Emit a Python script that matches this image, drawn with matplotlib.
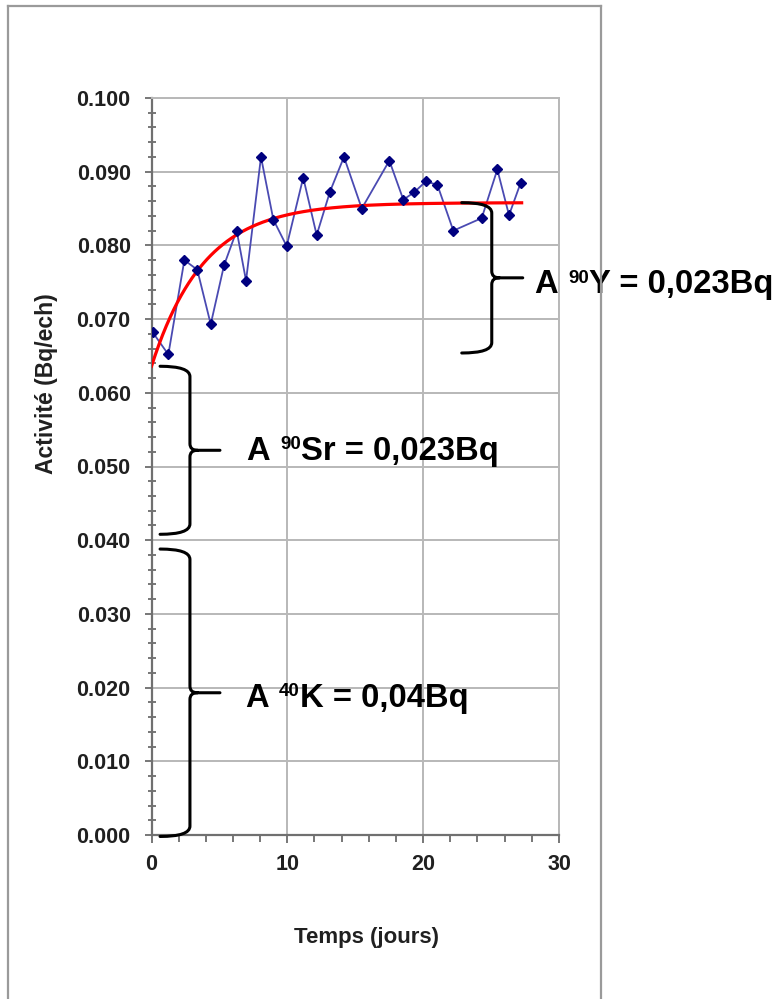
import numpy as np
import matplotlib.pyplot as plt
from matplotlib.path import Path
from matplotlib.patches import PathPatch
from matplotlib.lines import Line2D

plt.rcParams['font.family'] = ['Liberation Sans', 'DejaVu Sans']
plt.rcParams['font.weight'] = 'bold'

# mesures (jours, Bq/ech)
jours = [0.09, 1.24, 2.42, 3.37, 4.36, 5.34, 6.27, 6.96, 8.06, 8.97,
         9.95, 11.17, 12.16, 13.14, 14.17, 15.48, 17.51, 18.54, 19.33,
         20.21, 21.05, 22.22, 24.31, 25.46, 26.32, 27.18]
activite = [0.0682, 0.0652, 0.0780, 0.0767, 0.0693, 0.0773, 0.0820, 0.0752,
            0.0920, 0.0835, 0.0799, 0.0892, 0.0814, 0.0873, 0.0920, 0.0850,
            0.0915, 0.0862, 0.0872, 0.0887, 0.0882, 0.0820, 0.0837, 0.0903,
            0.0841, 0.0885]

# ajustement : remontée du Y90 vers l'équilibre avec le Sr90
a_depart = 0.0636
a_equilibre = 0.0858
demi_vie_y90 = 2.67
t_fin = 27.25

# accolades : (x bout, x dos, x pointe, y haut, y bas)
accolades = [
    (22.84, 25.05, 27.33, 0.0858, 0.0654),
    (0.63, 2.83, 5.04, 0.0636, 0.0408),
    (0.63, 2.83, 5.04, 0.0388, -0.0002),
]
# étiquettes : (x, y ligne de base, masse, reste)
etiquettes = [
    (28.24, 0.0735, "90", "Y = 0,023Bq"),
    (7.03, 0.0509, "90", "Sr = 0,023Bq"),
    (6.96, 0.0174, "40", "K = 0,04Bq"),
]


def accolade(ax, xb, xd, xp, yh, yb, r=0.0014, rp=0.0009, dx=0.55):
    ym = (yh + yb) / 2
    verts = [(xb, yh), (xd, yh), (xd, yh - r),
             (xd, ym + rp), (xd, ym), (xd + dx, ym), (xp, ym),
             (xd + dx, ym), (xd, ym), (xd, ym - rp),
             (xd, yb + r), (xd, yb), (xb, yb)]
    codes = [Path.MOVETO, Path.CURVE3, Path.CURVE3,
             Path.LINETO, Path.CURVE3, Path.CURVE3, Path.LINETO,
             Path.MOVETO, Path.CURVE3, Path.CURVE3,
             Path.LINETO, Path.CURVE3, Path.CURVE3]
    ax.add_patch(PathPatch(Path(verts, codes), fill=False, color='black',
                           lw=2.2, capstyle='round', joinstyle='round',
                           clip_on=False, zorder=6))


def etiquette(ax, x, y, masse, reste):
    t1 = ax.text(x, y, "A ", fontsize=23.6, fontweight='bold', ha='left',
                 va='baseline', clip_on=False, zorder=6)
    t2 = ax.annotate(masse, xy=(1, y), xycoords=(t1, 'data'),
                     xytext=(1, 7.5), textcoords='offset points',
                     fontsize=13.5, fontweight='bold', ha='left',
                     va='baseline', annotation_clip=False, zorder=6)
    ax.annotate(reste, xy=(1, y), xycoords=(t2, 'data'),
                fontsize=23.6, fontweight='bold', ha='left', va='baseline',
                annotation_clip=False, zorder=6)


fig = plt.figure(figsize=(7.79, 9.99), dpi=100)
ax = fig.add_axes([151.5 / 779, 1 - 835 / 999, 407.5 / 779, 737 / 999])

ax.plot(jours, activite, color='#4a4ab2', lw=1.3, zorder=3)
t = np.linspace(0, t_fin, 300)
ajuste = a_equilibre - (a_equilibre - a_depart) * np.exp(-np.log(2) / demi_vie_y90 * t)
ax.plot(t, ajuste, color='#ff0000', lw=2.3, zorder=4)
ax.plot(jours, activite, 'D', color='#00007f', markersize=5, zorder=5)

ax.set_xlim(0, 30)
ax.set_ylim(0, 0.1)
ax.set_xticks([0, 10, 20, 30])
ax.set_xticks(np.arange(0, 31, 2), minor=True)
ax.set_yticks(np.arange(0, 0.1001, 0.01))
ax.set_yticks(np.arange(0, 0.1001, 0.002), minor=True)
ax.yaxis.set_major_formatter('{x:.3f}')
ax.grid(True, which='major', color='#b8b8b8', lw=1.4, zorder=0)
ax.set_axisbelow(True)

for s in ['left', 'bottom']:
    ax.spines[s].set_color('#707070')
    ax.spines[s].set_linewidth(1.6)
for s in ['top', 'right']:
    ax.spines[s].set_color('#b8b8b8')
    ax.spines[s].set_linewidth(1.4)

ax.tick_params(axis='y', which='major', direction='out', length=5,
               width=1.2, color='#606060', pad=10, labelsize=15.5)
ax.tick_params(axis='y', which='minor', direction='inout', length=6,
               width=1.2, color='#606060')
ax.tick_params(axis='x', which='major', direction='out', length=6,
               width=1.2, color='#606060', pad=8, labelsize=15.5)
ax.tick_params(axis='x', which='minor', direction='out', length=5,
               width=1.2, color='#606060')
for lab in ax.get_xticklabels() + ax.get_yticklabels():
    lab.set_fontweight('bold')
    lab.set_color('#202020')

fig.text(47 / 779, 1 - 384 / 999, "Activité (Bq/ech)", rotation=90,
         ha='center', va='center', fontsize=16.5, fontweight='bold',
         color='#202020')
fig.text(367 / 779, 1 - 937 / 999, "Temps (jours)", ha='center',
         va='center', fontsize=16, fontweight='bold', color='#202020')

for a in accolades:
    accolade(ax, *a)
for e in etiquettes:
    etiquette(ax, *e)

# cadre extérieur
cadre = dict(transform=fig.transFigure, color='#9a9a9a', lw=1.6)
fig.add_artist(Line2D([8 / 779, 8 / 779], [0, 1 - 6 / 999], **cadre))
fig.add_artist(Line2D([8 / 779, 601 / 779], [1 - 6 / 999, 1 - 6 / 999], **cadre))
fig.add_artist(Line2D([601 / 779, 601 / 779], [0, 1 - 6 / 999], **cadre))

fig.savefig('out.png', dpi=100)
